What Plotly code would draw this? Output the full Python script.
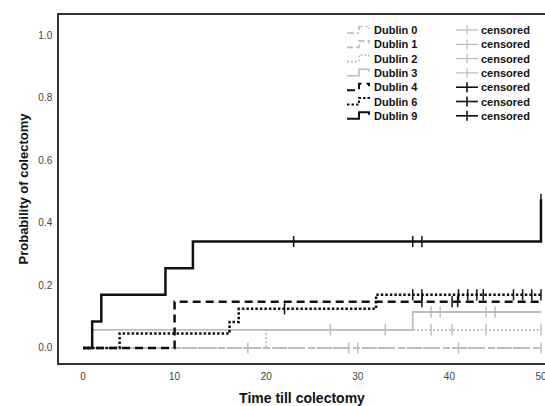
import plotly.graph_objects as go

# ---------------- data ----------------
groups = ["Dublin 0", "Dublin 1", "Dublin 2", "Dublin 3", "Dublin 4", "Dublin 6", "Dublin 9"]

d0_t = [0, 50]
d0_p = [0, 0]
d0_cens_t = [18, 30, 41]
d0_cens_p = [0, 0, 0]

d1_t = [0, 50]
d1_p = [0, 0]
d1_cens_t = [29, 50]
d1_cens_p = [0, 0]

d2_t = [0, 20, 50]
d2_p = [0, 0.058, 0.058]
d2_cens_t = [38, 40.3, 44, 50]
d2_cens_p = [0.058, 0.058, 0.058, 0.058]

d3_t = [0, 1, 36, 50]
d3_p = [0, 0.058, 0.115, 0.115]
d3_cens_t = [27, 33, 38, 39, 44, 45]
d3_cens_p = [0.058, 0.058, 0.115, 0.115, 0.115, 0.115]

d4_t = [0, 10, 50]
d4_p = [0, 0.148, 0.148]
d4_cens_t = [37, 40.3, 40.9]
d4_cens_p = [0.148, 0.148, 0.148]

d6_t = [0, 4, 16, 17, 32, 50]
d6_p = [0, 0.046, 0.083, 0.125, 0.17, 0.17]
d6_cens_t = [22, 36, 37, 41, 42, 43, 43.7, 47, 48, 49, 50]
d6_cens_p = [0.125] + [0.17] * 10

d9_t = [0, 1, 2, 9, 12, 50]
d9_p = [0, 0.085, 0.17, 0.255, 0.34, 0.475]
d9_cens_t = [23, 36, 37, 50]
d9_cens_p = [0.34, 0.34, 0.34, 0.475]

x_ticks = [0, 10, 20, 30, 40, 50]
y_ticks = [0.0, 0.2, 0.4, 0.6, 0.8, 1.0]

# ---------------- styles ----------------
GRAY = "#bdbdbd"
BLACK = "#111111"
styles = {
    "Dublin 0": dict(color=GRAY, width=1.8, dash="7px,3px,2px,3px"),
    "Dublin 1": dict(color=GRAY, width=1.8, dash="6px,3px"),
    "Dublin 2": dict(color=GRAY, width=1.8, dash="2px,2px"),
    "Dublin 3": dict(color=GRAY, width=1.8, dash="solid"),
    "Dublin 4": dict(color=BLACK, width=2.5, dash="8px,5px"),
    "Dublin 6": dict(color=BLACK, width=2.5, dash="2.5px,2px"),
    "Dublin 9": dict(color=BLACK, width=2.5, dash="solid"),
}
series = {
    "Dublin 0": (d0_t, d0_p, d0_cens_t, d0_cens_p),
    "Dublin 1": (d1_t, d1_p, d1_cens_t, d1_cens_p),
    "Dublin 2": (d2_t, d2_p, d2_cens_t, d2_cens_p),
    "Dublin 3": (d3_t, d3_p, d3_cens_t, d3_cens_p),
    "Dublin 4": (d4_t, d4_p, d4_cens_t, d4_cens_p),
    "Dublin 6": (d6_t, d6_p, d6_cens_t, d6_cens_p),
    "Dublin 9": (d9_t, d9_p, d9_cens_t, d9_cens_p),
}

fig = go.Figure()
for g in groups:
    t, p, ct, cp = series[g]
    st = styles[g]
    fig.add_trace(go.Scatter(x=t, y=p, mode="lines", line_shape="hv",
                             line=dict(color=st["color"], width=st["width"], dash=st["dash"]),
                             name=g, showlegend=False, hoverinfo="skip"))
for g in groups:
    t, p, ct, cp = series[g]
    st = styles[g]
    fig.add_trace(go.Scatter(x=ct, y=cp, mode="markers",
                             marker=dict(symbol="line-ns", size=8,
                                         line=dict(color=st["color"], width=1.5)),
                             name=g + " censored", showlegend=False, hoverinfo="skip"))

# ---------------- manual legend ----------------
W, H = 545, 406
ML, MR, MT, MB = 59, 0, 15, 43
PW, PH = W - ML - MR, H - MT - MB

def px_x(p):
    return (p - ML) / PW

def px_y(p):
    return (H - MB - p) / PH

row_y = [30, 44.4, 58.6, 72.8, 87.2, 101.5, 115.8]
shapes = []
annotations = []
for g, ry in zip(groups, row_y):
    st = styles[g]
    lw = 1.6 if st["color"] == GRAY else 2
    path = "M {},{} H {} V {} H {} V {}".format(
        px_x(347), px_y(ry + 3), px_x(359), px_y(ry - 3.5), px_x(369), px_y(ry - 1))
    shapes.append(dict(type="path", xref="paper", yref="paper", path=path,
                       line=dict(color=st["color"], width=lw, dash=st["dash"])))
    annotations.append(dict(text="<b>" + g + "</b>", x=px_x(372), y=px_y(ry), xref="paper", yref="paper",
                            xanchor="left", yanchor="middle", showarrow=False,
                            font=dict(family="Arial, Liberation Sans", size=11, color="#111")))
    ccol = GRAY if st["color"] == GRAY else BLACK
    cw = 1.2 if ccol == GRAY else 1.6
    shapes.append(dict(type="line", xref="paper", yref="paper", x0=px_x(456), x1=px_x(478),
                       y0=px_y(ry), y1=px_y(ry), line=dict(color=ccol, width=cw)))
    shapes.append(dict(type="line", xref="paper", yref="paper", x0=px_x(467), x1=px_x(467),
                       y0=px_y(ry - 5), y1=px_y(ry + 5), line=dict(color=ccol, width=cw)))
    annotations.append(dict(text="<b>censored</b>", x=px_x(479), y=px_y(ry), xref="paper", yref="paper",
                            xanchor="left", yanchor="middle", showarrow=False,
                            font=dict(family="Arial, Liberation Sans", size=11, color="#111")))

fig.update_layout(
    width=W, height=H,
    margin=dict(l=ML, r=MR, t=MT, b=MB),
    paper_bgcolor="white", plot_bgcolor="white",
    font=dict(family="Arial, Liberation Sans", color="#444"),
    shapes=shapes, annotations=annotations,
    xaxis=dict(range=[-2.62, 50.44], tickvals=x_ticks, ticks="", showgrid=False, zeroline=False,
               showline=True, linecolor="#333", linewidth=1.5, mirror=True,
               tickfont=dict(size=10, color="#444"), ticklabelstandoff=3,
               ticklabeloverflow="allow", automargin=False,
               title=dict(text="Time till colectomy", standoff=12,
                          font=dict(size=14, color="#111", weight="bold"))),
    yaxis=dict(range=[-0.048, 1.064], tickvals=y_ticks, tickformat=".1f", ticks="", showgrid=False,
               zeroline=False, showline=True, linecolor="#333", linewidth=1.5, mirror=False,
               tickfont=dict(size=10, color="#444"), ticklabelstandoff=3, automargin=False,
               title=dict(text="Probability of colectomy", standoff=7,
                          font=dict(size=13, color="#111", weight="bold"))),
)

fig.write_html("out.html")
